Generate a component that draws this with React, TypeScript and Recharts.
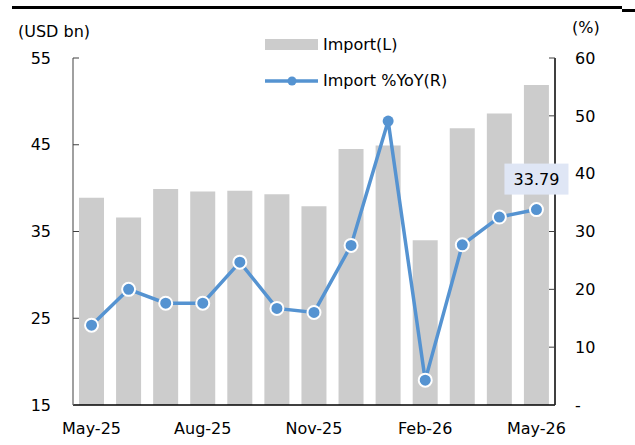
import React from "react";
import {
  ComposedChart,
  Bar,
  Line,
  XAxis,
  YAxis,
  LabelList,
} from "recharts";

const months = [
  "May-25", "Jun-25", "Jul-25", "Aug-25", "Sep-25", "Oct-25", "Nov-25",
  "Dec-25", "Jan-26", "Feb-26", "Mar-26", "Apr-26", "May-26",
];
const importValues = [38.9, 36.6, 39.9, 39.6, 39.7, 39.3, 37.9, 44.5, 44.9, 34.0, 46.9, 48.6, 51.9];
const importYoY = [13.8, 20.0, 17.6, 17.6, 24.7, 16.7, 16.0, 27.6, 49.1, 4.3, 27.7, 32.5, 33.79];
const leftTicks = [15, 25, 35, 45, 55];
const rightTicks = [0, 10, 20, 30, 40, 50, 60];

const FONT = "'DejaVu Sans', Verdana, sans-serif";
const LINE_COLOR = "#5593d1";
const BAR_COLOR = "#cccccc";

const data = months.map((m, i) => ({
  month: m,
  imp: importValues[i],
  yoy: importYoY[i],
}));

const YoYDot = (props: any) => {
  const { cx, cy, index } = props;
  const noRing = index === 8;
  return (
    <circle
      key={`dot-${index}`}
      cx={cx}
      cy={cy}
      r={noRing ? 5.5 : 6.5}
      fill={LINE_COLOR}
      stroke={noRing ? "none" : "#ffffff"}
      strokeWidth={2}
    />
  );
};

// only the last point carries a label, in a shaded box
const LastLabel = (props: any) => {
  const { x, y, value, index } = props;
  if (index !== importYoY.length - 1) return null;
  return (
    <g>
      <rect x={x - 32} y={y - 46} width={64} height={31} fill="#dfe6f5" />
      <text
        x={x}
        y={y - 30}
        textAnchor="middle"
        dominantBaseline="central"
        fontFamily={FONT}
        fontSize={16}
        fill="#000"
      >
        {Number(value).toFixed(2)}
      </text>
    </g>
  );
};

const Legend = () => (
  <div
    style={{
      position: "absolute",
      left: 265,
      top: 32,
      fontFamily: FONT,
      fontSize: 16,
      color: "#000",
    }}
  >
    <div style={{ display: "flex", alignItems: "center", height: 25 }}>
      <div style={{ width: 53, height: 11, background: BAR_COLOR }} />
      <span style={{ marginLeft: 5 }}>Import(L)</span>
    </div>
    <div style={{ display: "flex", alignItems: "center", height: 25, marginTop: 11 }}>
      <svg width={53} height={12}>
        <line x1={0} y1={6} x2={53} y2={6} stroke={LINE_COLOR} strokeWidth={3.5} />
        <circle cx={27} cy={6} r={4.5} fill={LINE_COLOR} />
      </svg>
      <span style={{ marginLeft: 5 }}>Import %YoY(R)</span>
    </div>
  </div>
);

export default function App() {
  return (
    <div
      style={{
        position: "absolute",
        left: 0,
        top: 0,
        width: 635,
        height: 445,
        background: "#fff",
        fontFamily: FONT,
      }}
    >
      <div style={{ position: "absolute", left: 12, top: 6, width: 610, height: 2.5, background: "#000" }} />
      <div style={{ position: "absolute", left: 622, top: 9, width: 13, height: 2.5, background: "#000" }} />
      <div style={{ position: "absolute", left: 18, top: 22, fontSize: 16, lineHeight: "20px" }}>(USD bn)</div>
      <div style={{ position: "absolute", left: 572, top: 18, fontSize: 16, lineHeight: "20px" }}>(%)</div>
      <ComposedChart
        width={635}
        height={445}
        data={data}
        margin={{ top: 58, right: 10, bottom: 10, left: 10 }}
        barSize={25}
      >
        <XAxis
          dataKey="month"
          interval={2}
          tickLine={false}
          tickSize={0}
          tickMargin={18}
          axisLine={{ stroke: "#000", strokeWidth: 1.5 }}
          tick={{ fill: "#000", fontSize: 16, fontFamily: FONT }}
          height={30}
        />
        <YAxis
          yAxisId="left"
          orientation="left"
          domain={[15, 55]}
          ticks={leftTicks}
          width={63}
          tickSize={-6}
          tickMargin={28}
          axisLine={{ stroke: "#808080", strokeWidth: 1.5 }}
          tickLine={{ stroke: "#404040" }}
          tick={{ fill: "#000", fontSize: 16, fontFamily: FONT }}
        />
        <YAxis
          yAxisId="right"
          orientation="right"
          domain={[0, 60]}
          ticks={rightTicks}
          width={70}
          tickSize={-6}
          tickMargin={26}
          axisLine={{ stroke: "#000", strokeWidth: 1.5 }}
          tickLine={{ stroke: "#404040" }}
          tickFormatter={(v: number) => (v === 0 ? "  -" : String(v))}
          tick={{ fill: "#000", fontSize: 16, fontFamily: FONT }}
        />
        <Bar
          yAxisId="left"
          dataKey="imp"
          fill={BAR_COLOR}
          isAnimationActive={false}
        />
        <Line
          yAxisId="right"
          dataKey="yoy"
          stroke={LINE_COLOR}
          strokeWidth={3.5}
          dot={<YoYDot />}
          activeDot={false}
          isAnimationActive={false}
        >
          <LabelList dataKey="yoy" content={<LastLabel />} />
        </Line>
      </ComposedChart>
      <Legend />
    </div>
  );
}
